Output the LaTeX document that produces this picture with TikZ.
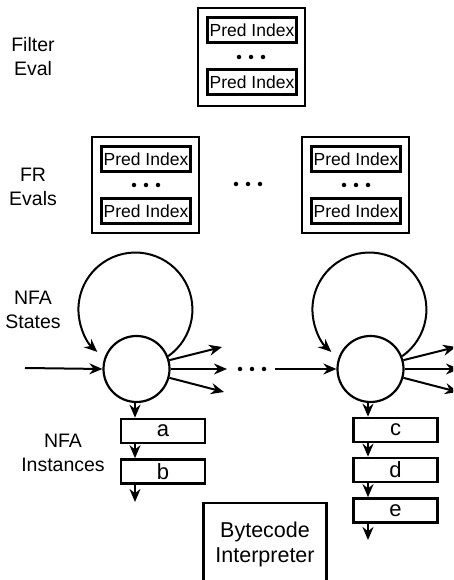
\documentclass[tikz,border=0pt]{standalone}
\usepackage{fontspec}
\setmainfont{Liberation Sans}
\usetikzlibrary{arrows.meta,calc}
\tikzset{
  tip/.style={-{Stealth[length=13pt,width=11pt]}},
  arr/.style={line width=2pt,tip},
  outerbox/.style={draw,line width=2.2pt,minimum width=107pt,inner sep=0pt},
  predbox/.style={draw,line width=3pt,minimum width=89pt,minimum height=25pt,inner sep=0pt,font=\fontsize{17.5}{19}\selectfont},
  state/.style={draw,circle,line width=2.2pt,minimum size=66pt,inner sep=0pt},
  inst/.style={draw,line width=2.6pt,minimum width=84pt,minimum height=24pt,inner sep=0pt,font=\fontsize{22}{22}\selectfont},
  lbl/.style={align=center,font=\fontsize{19.5}{24}\selectfont},
  dotc/.style={fill,circle,inner sep=0pt,minimum size=4.5pt}
}
\newcommand{\mydots}[2]{%
  \node[dotc] at (#1-12,#2) {};
  \node[dotc] at (#1,#2) {};
  \node[dotc] at (#1+12,#2) {};}
\begin{document}
\begin{tikzpicture}[x=1pt,y=1pt]
\useasboundingbox (0,0) rectangle (453,580);
\clip (0,0) rectangle (453,580);
% labels
\node[lbl] (lf) at (33,523) {Filter\\Eval};
\node[lbl] (lr) at (33,393) {FR\\Evals};
\node[lbl] (ls) at (33,270) {NFA\\States};
\node[lbl] (li) at (63,127) {NFA\\Instances};
% filter eval
\node[outerbox,minimum height=98pt] (fe) at (251.5,523) {};
\node[predbox] (fe1) at (252,550) {Pred Index};
\node[predbox] (fe2) at (252,498) {Pred Index};
\mydots{251}{523}
% FR evals
\node[outerbox,minimum height=96pt] (fr1) at (145.5,395) {};
\node[predbox] (fr1a) at (146,421) {Pred Index};
\node[predbox] (fr1b) at (146,369) {Pred Index};
\mydots{146}{395}
\mydots{248}{396}
\node[outerbox,minimum height=96pt] (fr2) at (355.5,395) {};
\node[predbox] (fr2a) at (356,421) {Pred Index};
\node[predbox] (fr2b) at (356,369) {Pred Index};
\mydots{356}{395}
% states
\node[state] (s1) at (136.5,211) {};
\node[state] (s2) at (370.5,211) {};
\coordinate (in1) at (25,212);
\coordinate (o1a) at (222,233);
\coordinate (o1b) at (227,211);
\coordinate (o1c) at (224,188);
\draw[arr] (in1) -- (s1.west);
\draw[arr] (s1.15) -- (o1a);
\draw[arr] (s1.east) -- (o1b);
\draw[arr] (s1.-15) -- (o1c);
\draw[arr] (s1.22) arc[start angle=-55,end angle=228,radius=57pt];
\mydots{252}{211}
\coordinate (in2) at (275,211);
\coordinate (o2a) at (456,233);
\coordinate (o2b) at (459,211);
\coordinate (o2c) at (458,188);
\draw[arr] (in2) -- (s2.west);
\draw[arr] (s2.15) -- (o2a);
\draw[arr] (s2.east) -- (o2b);
\draw[arr] (s2.-15) -- (o2c);
\draw[arr] (s2.22) arc[start angle=-55,end angle=228,radius=57pt];
% instances left
\node[inst] (a) at (163,149) {a};
\node[inst] (b) at (163,108.5) {b};
\coordinate (endl) at (135,78);
\draw[arr] (s1.south -| endl) -- (a.north -| endl);
\draw[arr] (a.south -| endl) -- (b.north -| endl);
\draw[arr] (b.south -| endl) -- (endl);
% instances right
\node[inst] (c) at (395.5,150) {c};
\node[inst] (d) at (395.5,110) {d};
\node[inst] (e) at (395.5,69.5) {e};
\coordinate (endr) at (368,40);
\draw[arr] (s2.south -| endr) -- (c.north -| endr);
\draw[arr] (c.south -| endr) -- (d.north -| endr);
\draw[arr] (d.south -| endr) -- (e.north -| endr);
\draw[arr] (e.south -| endr) -- (endr);
% bytecode interpreter
\node[draw,line width=2.2pt,minimum width=123pt,minimum height=90pt,anchor=north,inner sep=0pt] (bi) at (265,78) {};
\node[lbl,font=\fontsize{21.5}{25}\selectfont] (bit) at (265,36) {Bytecode\\Interpreter};
\end{tikzpicture}
\end{document}
